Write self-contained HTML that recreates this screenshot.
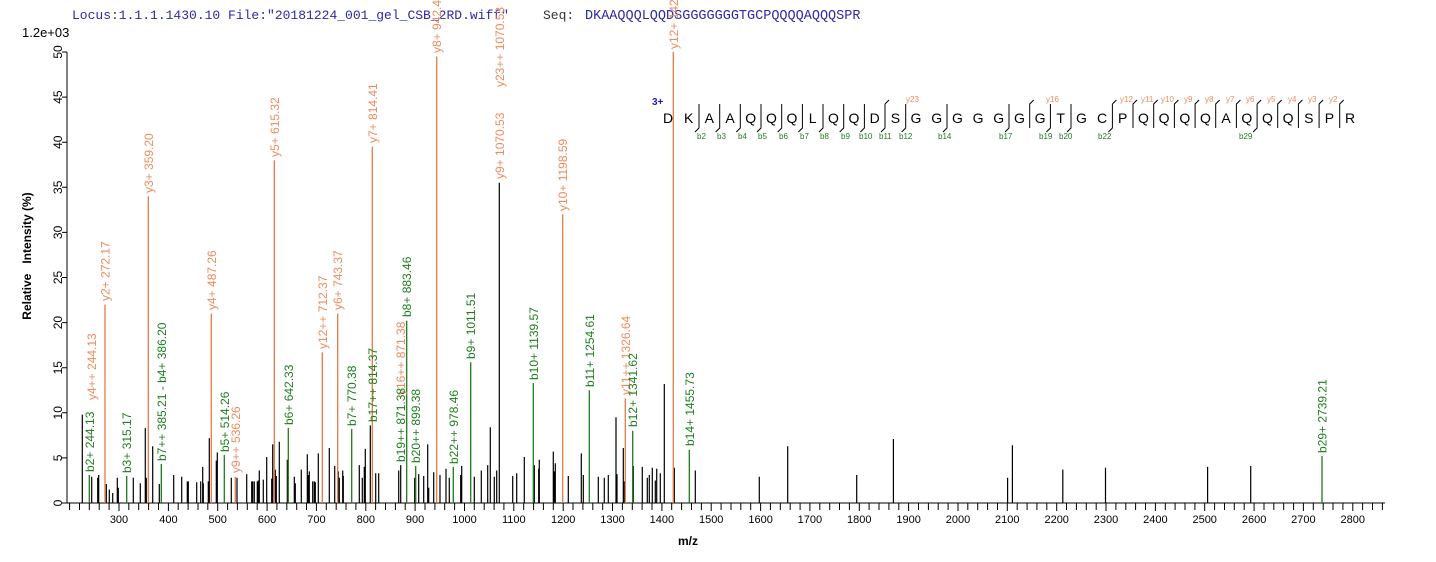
<!DOCTYPE html>
<html><head><meta charset="utf-8"><style>
html,body{margin:0;padding:0;background:#fff;}
svg{display:block;font-family:"Liberation Sans",Arial,sans-serif;}
.o{fill:#ee8a5e;font-size:12px}
.g{fill:#1e7d1e;font-size:12px}
</style></head><body>
<svg width="1436" height="562" viewBox="0 0 1436 562" xmlns="http://www.w3.org/2000/svg">
<text x="72" y="19" font-family="Liberation Mono,monospace" font-size="13" fill="#2a2aa8">Locus:1.1.1.1430.10 File:"20181224_001_gel_CSB_2RD.wiff"</text>
<text x="543" y="19" font-family="Liberation Mono,monospace" font-size="13" fill="#333">Seq:</text>
<text x="585" y="19" font-family="Liberation Mono,monospace" font-size="13.5" fill="#2a2aa8">DKAAQQQLQQDSGGGGGGGTGCPQQQQAQQQSPR</text>
<text x="22" y="37" font-size="13" fill="#000">1.2e+03</text>

<path d="M67 52V503H1385" stroke="#000" stroke-width="1" fill="none"/>
<path d="M62 503H67M62 457.9H67M62 412.8H67M62 367.7H67M62 322.6H67M62 277.5H67M62 232.4H67M62 187.3H67M62 142.2H67M62 97.1H67M62 52H67" stroke="#000"/>
<g font-size="12" fill="#000" text-anchor="middle">
<text transform="translate(62,503) rotate(-90)">0</text>
<text transform="translate(62,457.9) rotate(-90)">5</text>
<text transform="translate(62,412.8) rotate(-90)">10</text>
<text transform="translate(62,367.7) rotate(-90)">15</text>
<text transform="translate(62,322.6) rotate(-90)">20</text>
<text transform="translate(62,277.5) rotate(-90)">25</text>
<text transform="translate(62,232.4) rotate(-90)">30</text>
<text transform="translate(62,187.3) rotate(-90)">35</text>
<text transform="translate(62,142.2) rotate(-90)">40</text>
<text transform="translate(62,97.1) rotate(-90)">45</text>
<text transform="translate(62,52) rotate(-90)">50</text>
</g>
<text transform="translate(31,256) rotate(-90)" text-anchor="middle" font-size="12" font-weight="bold">Relative&#160;&#160;&#160;Intensity (%)</text>
<text x="688" y="545" text-anchor="middle" font-size="12" font-weight="bold">m/z</text>

<path stroke="#000" d="M69.6 503v7M79.5 503v7M89.3 503v7M99.2 503v7M109.1 503v7M119 503v8M128.8 503v7M138.7 503v7M148.6 503v7M158.5 503v7M168.4 503v8M178.2 503v7M188.1 503v7M198 503v7M207.8 503v7M217.7 503v8M227.6 503v7M237.4 503v7M247.3 503v7M257.2 503v7M267.1 503v8M276.9 503v7M286.8 503v7M296.7 503v7M306.5 503v7M316.4 503v8M326.3 503v7M336.2 503v7M346 503v7M355.9 503v7M365.8 503v8M375.6 503v7M385.5 503v7M395.4 503v7M405.2 503v7M415.1 503v8M425 503v7M434.9 503v7M444.7 503v7M454.6 503v7M464.5 503v8M474.3 503v7M484.2 503v7M494.1 503v7M503.9 503v7M513.8 503v8M523.7 503v7M533.6 503v7M543.4 503v7M553.3 503v7M563.2 503v8M573 503v7M582.9 503v7M592.8 503v7M602.7 503v7M612.5 503v8M622.4 503v7M632.3 503v7M642.1 503v7M652 503v7M661.9 503v8M671.7 503v7M681.6 503v7M691.5 503v7M701.4 503v7M711.2 503v8M721.1 503v7M731 503v7M740.8 503v7M750.7 503v7M760.6 503v8M770.4 503v7M780.3 503v7M790.2 503v7M800.1 503v7M809.9 503v8M819.8 503v7M829.7 503v7M839.5 503v7M849.4 503v7M859.3 503v8M869.1 503v7M879 503v7M888.9 503v7M898.8 503v7M908.6 503v8M918.5 503v7M928.4 503v7M938.2 503v7M948.1 503v7M958 503v8M967.8 503v7M977.7 503v7M987.6 503v7M997.5 503v7M1007.3 503v8M1017.2 503v7M1027.1 503v7M1036.9 503v7M1046.8 503v7M1056.7 503v8M1066.5 503v7M1076.4 503v7M1086.3 503v7M1096.2 503v7M1106 503v8M1115.9 503v7M1125.8 503v7M1135.6 503v7M1145.5 503v7M1155.4 503v8M1165.3 503v7M1175.1 503v7M1185 503v7M1194.9 503v7M1204.7 503v8M1214.6 503v7M1224.5 503v7M1234.3 503v7M1244.2 503v7M1254.1 503v8M1264 503v7M1273.8 503v7M1283.7 503v7M1293.6 503v7M1303.4 503v8M1313.3 503v7M1323.2 503v7M1333 503v7M1342.9 503v7M1352.8 503v8M1362.6 503v7M1372.5 503v7M1382.4 503v7"/>
<g font-size="11" fill="#000" text-anchor="middle">
<text x="119" y="523">300</text><text x="168.4" y="523">400</text><text x="217.7" y="523">500</text><text x="267.1" y="523">600</text><text x="316.4" y="523">700</text><text x="365.8" y="523">800</text><text x="415.1" y="523">900</text><text x="464.5" y="523">1000</text><text x="513.8" y="523">1100</text><text x="563.2" y="523">1200</text><text x="612.5" y="523">1300</text><text x="661.9" y="523">1400</text><text x="711.2" y="523">1500</text><text x="760.6" y="523">1600</text><text x="809.9" y="523">1700</text><text x="859.3" y="523">1800</text><text x="908.6" y="523">1900</text><text x="958" y="523">2000</text><text x="1007.3" y="523">2100</text><text x="1056.7" y="523">2200</text><text x="1106" y="523">2300</text><text x="1155.4" y="523">2400</text><text x="1204.7" y="523">2500</text><text x="1254.1" y="523">2600</text><text x="1303.4" y="523">2700</text><text x="1352.8" y="523">2800</text>
</g>

<path stroke="#000" stroke-width="1.2" fill="none" d="M82.3 503V414.6M91.7 503V476.8M97.7 503V477.7M98.7 503V475M106.3 503V484M109.3 503V489.5M112.7 503V493M117.3 503V477.7M118.3 503V487.7M133.3 503V477.7M140.3 503V483.2M145.3 503V428.1M146.3 503V477.7M152.7 503V446.2M159.3 503V484M173.7 503V475M181.7 503V476.8M187.3 503V481.4M188.3 503V481.4M196.7 503V482.3M200.7 503V481.4M202.7 503V466.9M203.3 503V483.2M208.3 503V481.4M209.3 503V438.1M216.3 503V460.6M217.3 503V452.5M231.3 503V477.7M237 503V477.7M246.7 503V474.1M251.7 503V481.4M252.7 503V481.4M254.3 503V481.4M257.3 503V481.4M258.3 503V480.5M259.3 503V470.5M263.3 503V479.6M266.7 503V457M271.7 503V478.6M272.7 503V444.4M275.3 503V469.6M276.3 503V476M279.3 503V441.7M287.3 503V459.7M294.3 503V476.8M295.3 503V483.2M301.3 503V469.6M307.3 503V454.3M308.3 503V475M309.3 503V471.4M312.7 503V481.4M314.3 503V481.4M315.3 503V482.3M318.3 503V453.4M329.3 503V448M334.7 503V466M338.3 503V471.4M339.3 503V477.7M342.7 503V470.5M343.3 503V476M359.3 503V465.1M362.3 503V477.7M364.3 503V466.9M365.3 503V448.9M370.3 503V425.4M375.7 503V473.2M378.7 503V473.2M398.7 503V470.5M400.7 503V465.1M414.7 503V477.7M418.7 503V474.1M423.7 503V476M427.7 503V444.4M428.7 503V487.7M433.7 503V472.3M440 503V475M446 503V468.7M449.3 503V477.7M460.7 503V475M461.7 503V466M474.3 503V476.8M481.3 503V470.5M487.7 503V465.1M490.3 503V427.2M494.3 503V476.8M496.7 503V470.5M499.3 503V182.8M512.7 503V476M516.7 503V473.2M524.3 503V457M534.3 503V465.1M538.7 503V468.7M539.3 503V459.7M553.3 503V451.6M554.3 503V471.4M555.3 503V463.3M568.3 503V476M581.3 503V453.4M583.3 503V475M598.3 503V476.8M604.3 503V477.7M608.3 503V475M616 503V417.3M617 503V474.1M623.3 503V448M624.3 503V481.4M633.3 503V466M642.3 503V466.9M647.3 503V477.7M649.3 503V475M652.3 503V467.8M655.3 503V480.5M656.7 503V468.7M660.3 503V473.2M664.3 503V384M674.3 503V467.8M695.3 503V470.5M759.3 503V476.8M787.7 503V446.2M856.7 503V475M893.4 503V439M1007.6 503V477.7M1012.4 503V445.3M1062.8 503V469.6M1105.5 503V467.8M1207.6 503V466.9M1250.7 503V466"/>

<path stroke="#e67a48" stroke-width="1.3" fill="none" d="M105 503V304.6M148.3 503V196.3M211.3 503V313.6M235.3 503V476.8M274.3 503V160.2M322.3 503V352.4M337.7 503V313.6M372.3 503V146.7M436.7 503V56.5M562.7 503V214.4M625.3 503V398.4M673.3 503V52"/>
<path stroke="#1e7d1e" stroke-width="1.3" fill="none" d="M89.3 503V475M126.7 503V476M161.3 503V464M224.3 503V455M288.3 503V428M351.7 503V429M406.7 503V320.8M415.7 503V466M453.3 503V467M470.7 503V362.3M533.3 503V383M589.3 503V390.3M632.7 503V430.8M689.3 503V449.8M1322 503V456"/>

<g class="o">
<text transform="translate(96,400) rotate(-90)">y4++ 244.13</text>
<text transform="translate(109.5,301) rotate(-90)">y2+ 272.17</text>
<text transform="translate(152.8,193) rotate(-90)">y3+ 359.20</text>
<text transform="translate(215.8,310) rotate(-90)">y4+ 487.26</text>
<text transform="translate(239.8,473) rotate(-90)">y9++ 536.26</text>
<text transform="translate(278.8,157) rotate(-90)">y5+ 615.32</text>
<text transform="translate(326.8,349) rotate(-90)">y12++ 712.37</text>
<text transform="translate(342.2,310) rotate(-90)">y6+ 743.37</text>
<text transform="translate(376.8,143) rotate(-90)">y7+ 814.41</text>
<text transform="translate(405,395) rotate(-90)">y16++ 871.38</text>
<text transform="translate(441.2,53) rotate(-90)">y8+ 942.47</text>
<text transform="translate(503.8,87) rotate(-90)">y23++ 1070.53</text>
<text transform="translate(503.8,179) rotate(-90)">y9+ 1070.53</text>
<text transform="translate(567.2,211) rotate(-90)">y10+ 1198.59</text>
<text transform="translate(629.8,395) rotate(-90)">y11++ 1326.64</text>
<text transform="translate(677.8,49) rotate(-90)">y12+ 1423.70</text>
</g>
<g class="g">
<text transform="translate(93.8,472) rotate(-90)">b2+ 244.13</text>
<text transform="translate(131.2,473) rotate(-90)">b3+ 315.17</text>
<text transform="translate(165.8,461) rotate(-90)">b7++ 385.21 - b4+ 386.20</text>
<text transform="translate(228.8,452) rotate(-90)">b5+ 514.26</text>
<text transform="translate(292.8,425) rotate(-90)">b6+ 642.33</text>
<text transform="translate(356.2,426) rotate(-90)">b7+ 770.38</text>
<text transform="translate(376.8,422) rotate(-90)">b17++ 814.37</text>
<text transform="translate(405,462) rotate(-90)">b19++ 871.38</text>
<text transform="translate(411.2,317) rotate(-90)">b8+ 883.46</text>
<text transform="translate(420.2,463) rotate(-90)">b20++ 899.38</text>
<text transform="translate(457.8,464) rotate(-90)">b22++ 978.46</text>
<text transform="translate(475.2,359) rotate(-90)">b9+ 1011.51</text>
<text transform="translate(537.8,380) rotate(-90)">b10+ 1139.57</text>
<text transform="translate(593.8,387) rotate(-90)">b11+ 1254.61</text>
<text transform="translate(637.2,427) rotate(-90)">b12+ 1341.62</text>
<text transform="translate(693.8,446) rotate(-90)">b14+ 1455.73</text>
<text transform="translate(1326.5,453) rotate(-90)">b29+ 2739.21</text>
</g>

<text x="652" y="105" font-size="10" font-weight="bold" fill="#1a1acc">3+</text>
<g font-size="14" fill="#000" text-anchor="middle">
<text x="668" y="123">D</text><text x="688.7" y="123">K</text><text x="709.3" y="123">A</text><text x="730" y="123">A</text><text x="750.7" y="123">Q</text><text x="771.4" y="123">Q</text><text x="792" y="123">Q</text><text x="812.7" y="123">L</text><text x="833.4" y="123">Q</text><text x="854" y="123">Q</text><text x="874.7" y="123">D</text><text x="895.4" y="123">S</text><text x="916" y="123">G</text><text x="936.7" y="123">G</text><text x="957.4" y="123">G</text><text x="978.1" y="123">G</text><text x="998.7" y="123">G</text><text x="1019.4" y="123">G</text><text x="1040.1" y="123">G</text><text x="1060.7" y="123">T</text><text x="1081.4" y="123">G</text><text x="1102.1" y="123">C</text><text x="1122.7" y="123">P</text><text x="1143.4" y="123">Q</text><text x="1164.1" y="123">Q</text><text x="1184.8" y="123">Q</text><text x="1205.4" y="123">Q</text><text x="1226.1" y="123">A</text><text x="1246.8" y="123">Q</text><text x="1267.4" y="123">Q</text><text x="1288.1" y="123">Q</text><text x="1308.8" y="123">S</text><text x="1329.4" y="123">P</text><text x="1350" y="123">R</text>
</g>
<path stroke="#000" stroke-width="1" fill="none" d="M699 104V128l-4 4M719.7 104V128l-4 4M740.3 104V128l-4 4M761 104V128l-4 4M781.7 104V128l-4 4M802.4 104V128l-4 4M823 104V128l-4 4M843.7 104V128l-4 4M864.4 104V128l-4 4M885 104V128l-4 4M885 104l4-4M905.7 104V128l-4 4M947 104V128l-4 4M1009 104V128l-4 4M1050.4 104V128l-4 4M1071 104V128l-4 4M1112.4 104V128l-4 4M1257.1 104V128l-4 4M1029.7 128V104l4-4M1112.4 104l4-4M1133 128V104l4-4M1153.7 128V104l4-4M1174.4 128V104l4-4M1195.1 128V104l4-4M1215.7 128V104l4-4M1236.4 128V104l4-4M1257.1 104l4-4M1277.7 128V104l4-4M1298.4 128V104l4-4M1319.1 128V104l4-4M1339.7 128V104l4-4"/>
<g font-size="8" fill="#1e7d1e">
<text x="697" y="139">b2</text><text x="717" y="139">b3</text><text x="738" y="139">b4</text><text x="758" y="139">b5</text><text x="779" y="139">b6</text><text x="800" y="139">b7</text><text x="820" y="139">b8</text><text x="841" y="139">b9</text><text x="859" y="139">b10</text><text x="879" y="139">b11</text><text x="899" y="139">b12</text><text x="938" y="139">b14</text><text x="999" y="139">b17</text><text x="1039" y="139">b19</text><text x="1059" y="139">b20</text><text x="1098" y="139">b22</text><text x="1239" y="139">b29</text>
</g>
<g font-size="8" fill="#ee8a5e">
<text x="906" y="102">y23</text><text x="1046" y="102">y16</text><text x="1120" y="102">y12</text><text x="1141" y="102">y11</text><text x="1161" y="102">y10</text><text x="1184" y="102">y9</text><text x="1205" y="102">y8</text><text x="1226" y="102">y7</text><text x="1246" y="102">y6</text><text x="1267" y="102">y5</text><text x="1288" y="102">y4</text><text x="1308" y="102">y3</text><text x="1329" y="102">y2</text>
</g>
</svg>
</body></html>
